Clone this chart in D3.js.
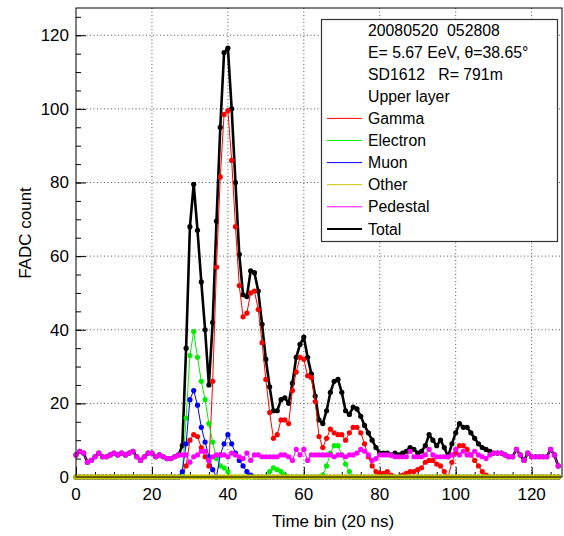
<!DOCTYPE html>
<html>
<head>
<meta charset="utf-8">
<script src="https://cdn.jsdelivr.net/npm/d3@7"></script>
<style>
  body { margin: 0; background: #fff; }
  text { font-family: "Liberation Sans", Arial, Helvetica, sans-serif; white-space: pre; }
</style>
</head>
<body>
<div id="chart"></div>
<script>
// FADC trace, SD1612 upper layer
const bins = d3.range(128);

const gamma = [
    0, 0, 0, 0, 0, 0, 0, 0, 0, 0, 0, 0, 0, 0, 0, 0, 0, 0, 0, 0, 0, 0, 0, 0, 0, 0, 0, 0,
    0.5, 3, 10, 11.5, 11, 8, 5.5, 3, 26, 57, 81.5, 98.5, 99.5, 86, 68, 52, 43.5, 44.5,
    50, 50.5, 45.5, 36.5, 26.5, 17.5, 10.5, 11.5, 15.5, 15.5, 14.5, 23.5, 28.5, 32.5,
    32, 27.5, 27, 20.5, 11, 8, 10.5, 13, 12, 11.5, 11.5, 10, 12, 13.5, 13.5, 12, 9,
    5.5, 3, 1.5, 1, 1, 1.5, 0.5, 0, 0, 0.5, 1, 1.5, 1.5, 2, 2.5, 4, 4.5, 4.5, 3.5, 3,
    1.5, 0, 4, 6.5, 8.5, 8.5, 7.5, 6, 4.5, 3, 1.5, 0.5,
    0, 0, 0, 0, 0, 0, 0, 0, 0, 0, 0, 0, 0, 0, 0, 0, 0, 0, 0
];

const electron = [
    0, 0, 0, 0, 0, 0, 0, 0, 0, 0, 0, 0, 0, 0, 0, 0, 0, 0, 0, 0, 0, 0, 0, 0, 0, 0, 0, 0,
    1, 16, 33, 39.5, 32.5, 26, 21, 14.5, 9.5, 5, 3, 2.5, 1.5, 0,
    0, 0, 0, 0, 0, 0, 0, 0, 0, 1.5, 2.5, 2, 1.5, 0.5,
    0, 0, 0, 0, 0, 0, 0, 0, 0, 0.5, 3, 6.5, 8.5, 8.5, 6, 3.5, 1.5,
    0, 0, 0, 0, 0, 0, 0, 0, 0, 0, 0, 0, 0, 0, 0, 0, 0, 0, 0, 0, 0, 0, 0, 0, 0, 0, 0,
    0, 0, 0, 0, 0, 0, 0, 0, 0, 0, 0, 0, 0, 0, 0, 0, 0, 0, 0, 0, 0, 0, 0, 0, 0, 0, 0, 0
];

const muon = [
    0, 0, 0, 0, 0, 0, 0, 0, 0, 0, 0, 0, 0, 0, 0, 0, 0, 0, 0, 0, 0, 0, 0, 0, 0, 0, 0, 0,
    1.5, 9, 21, 23.5, 19.5, 13.5, 9.5, 5.5, 2, 0, 6, 9, 11.5, 9, 6.5, 4.5, 3, 1.5, 0.5,
    0, 0, 0, 0, 0, 0, 0, 0, 0, 0, 0, 0, 0, 0, 0, 0, 0, 0, 0, 0, 0, 0, 0, 0, 0, 0, 0,
    0, 0, 0, 0, 0, 0, 0, 0, 0, 0, 0, 0, 0, 0, 0, 0, 0, 0, 0, 0, 0, 0, 0, 0, 0, 0, 0,
    0, 0, 0, 0, 0, 0, 0, 0, 0, 0, 0, 0, 0, 0, 0, 0, 0, 0, 0, 0, 0, 0, 0, 0, 0, 0, 0
];

const other = [
    0, 0, 0, 0, 0, 0, 0, 0, 0, 0, 0, 0, 0, 0, 0, 0, 0, 0, 0, 0, 0, 0, 0, 0, 0, 0, 0, 0, 0, 0, 0, 0,
    0, 0, 0, 0, 0, 0, 0, 0, 0, 0, 0, 0, 0, 0, 0, 0, 0, 0, 0, 0, 0, 0, 0, 0, 0, 0, 0, 0, 0, 0, 0, 0,
    0, 0, 0, 0, 0, 0, 0, 0, 0, 0, 0, 0, 0, 0, 0, 0, 0, 0, 0, 0, 0, 0, 0, 0, 0, 0, 0, 0, 0, 0, 0, 0,
    0, 0, 0, 0, 0, 0, 0, 0, 0, 0, 0, 0, 0, 0, 0, 0, 0, 0, 0, 0, 0, 0, 0, 0, 0, 0, 0, 0, 0, 0, 0, 0
];

const pedestal = [
    6, 7, 6.5, 4, 4.5, 5.5, 6.5, 5.5, 5.5, 6, 6.5, 6, 6.5, 6, 6.5, 7, 5.5, 4.5, 5.5, 6.5,
    6.5, 5.5, 6, 5.5, 5, 5, 5.5, 6, 6, 6, 4, 5.5, 6, 7, 7, 4.5, 5.5, 6, 6, 6,
    5.5, 6.5, 6, 5.5, 5, 6.5, 4.5, 6, 6, 5.5, 5.5, 5.5, 5.5, 5.5, 6, 6, 5.5, 4.5, 7.5, 6,
    7.5, 4.5, 6, 6, 6, 6, 6, 6, 5.5, 6, 6, 5.5, 6, 6, 6.5, 7.5, 7, 6, 4.5, 5,
    6, 6, 6, 6, 5.5, 5.5, 5.5, 5.5, 7, 5.5, 5.5, 5.5, 6, 7.5, 6, 5.5, 5.5, 5.5, 5.5, 6,
    7.5, 6, 7, 6, 6, 7, 6, 5.5, 5, 6, 6.5, 6.5, 6.5, 6, 5.5, 5.5, 7.5, 6, 4.5, 6.5,
    5.5, 5.5, 5.5, 5.5, 5.5, 7.5, 6, 3
];

const total = [
    6, 7, 6.5, 4, 4.5, 5.5, 6.5, 5.5, 5.5, 6, 6.5, 6, 6.5, 6, 6.5, 7, 5.5, 4.5, 5.5, 6.5,
    6.5, 5.5, 6, 5.5, 5, 5, 5.5, 6, 8.5, 35, 68, 79.5, 67, 53, 40, 25, 42, 69.5, 95, 115.3,
    116.5, 100, 80, 60.5, 49.5, 49, 56, 55.5, 50.5, 41.5, 32, 24.5, 18, 18, 21, 21.5, 20, 25.5, 32.5, 36,
    38, 32.5, 28, 22, 15.5, 14.5, 18, 23, 26, 26.5, 23, 18, 17, 19, 18.5, 16.5, 14, 12, 10, 8,
    6.5, 6.5, 6.5, 6, 6.5, 6, 6.5, 7, 8, 7.5, 6.5, 7, 8.5, 11.5, 10, 8.5, 10, 8, 5.5, 9,
    12, 14.5, 13.5, 13.5, 12, 10.5, 9, 8, 7.5, 7, 6.5, 6.5, 6.5, 6, 5.5, 5.5, 7.5, 6, 4.5, 6.5,
    5.5, 5.5, 5.5, 5.5, 5.5, 7.5, 6, 3
];

const xTicks = [0, 20, 40, 60, 80, 100, 120];
const yTicks = [0, 20, 40, 60, 80, 100, 120];
const headerLines = ['20080520  052808', 'E= 5.67 EeV, \u03b8=38.65\u00b0', 'SD1612   R= 791m', 'Upper layer'];

// Series in draw order (total first so the components sit on top of it)
const series = [
    { name: 'Total', values: total, color: '#000000', width: 2.6 },
    { name: 'Gamma', values: gamma, color: '#ff0000', width: 1 },
    { name: 'Electron', values: electron, color: '#00ee00', width: 1 },
    { name: 'Muon', values: muon, color: '#0000ff', width: 1 },
    { name: 'Other', values: other, color: '#c8c400', width: 1 },
    { name: 'Pedestal', values: pedestal, color: '#ff00ff', width: 1 }
];
const legendOrder = ['Gamma', 'Electron', 'Muon', 'Other', 'Pedestal', 'Total'];

// Chart dimensions
const width = 564;
const height = 536;
const plot = { left: 76, right: 562, top: 8, bottom: 477 };

const x = d3.scaleLinear().domain([0, 128]).range([plot.left, plot.right]);
const y = d3.scaleLinear().domain([0, 127.4]).range([plot.bottom, plot.top]);

const svg = d3.select('#chart')
    .append('svg')
    .attr('width', width)
    .attr('height', height);

// Dotted grid
svg.append('g')
    .selectAll('line')
    .data(xTicks.filter(d => d > 0))
    .enter()
    .append('line')
    .attr('x1', d => x(d)).attr('x2', d => x(d))
    .attr('y1', plot.top).attr('y2', plot.bottom)
    .attr('stroke', '#555')
    .attr('stroke-dasharray', '1,2.5');

svg.append('g')
    .selectAll('line')
    .data(yTicks.filter(d => d > 0))
    .enter()
    .append('line')
    .attr('x1', plot.left).attr('x2', plot.right)
    .attr('y1', d => y(d)).attr('y2', d => y(d))
    .attr('stroke', '#555')
    .attr('stroke-dasharray', '1,2.5');

// Axes with inward ticks (major every 20, minor every 5)
svg.append('g')
    .attr('transform', `translate(0, ${plot.bottom})`)
    .call(d3.axisTop(x).tickValues(d3.range(0, 128, 5)).tickSize(5).tickFormat(''))
    .call(g => g.select('.domain').remove());
svg.append('g')
    .attr('transform', `translate(0, ${plot.bottom})`)
    .call(d3.axisTop(x).tickValues(xTicks).tickSize(10).tickFormat(''))
    .call(g => g.select('.domain').remove());

svg.append('g')
    .attr('transform', `translate(${plot.left}, 0)`)
    .call(d3.axisRight(y).tickValues(d3.range(0, 127, 5)).tickSize(5).tickFormat(''))
    .call(g => g.select('.domain').remove());
svg.append('g')
    .attr('transform', `translate(${plot.left}, 0)`)
    .call(d3.axisRight(y).tickValues(yTicks).tickSize(10).tickFormat(''))
    .call(g => g.select('.domain').remove());

svg.selectAll('.tick line').attr('stroke', '#000');

// Tick labels
svg.append('g')
    .selectAll('text')
    .data(xTicks)
    .enter()
    .append('text')
    .attr('x', d => x(d))
    .attr('y', plot.bottom + 23)
    .attr('text-anchor', 'middle')
    .style('font-size', '17px')
    .text(d => d);

svg.append('g')
    .selectAll('text')
    .data(yTicks)
    .enter()
    .append('text')
    .attr('x', plot.left - 7)
    .attr('y', d => y(d))
    .attr('dy', '0.35em')
    .attr('text-anchor', 'end')
    .style('font-size', '17px')
    .text(d => d);

// Axis titles
svg.append('text')
    .attr('x', 333)
    .attr('y', 527)
    .attr('text-anchor', 'middle')
    .style('font-size', '17px')
    .text('Time bin (20 ns)');

svg.append('text')
    .attr('transform', 'translate(31, 233) rotate(-90)')
    .attr('text-anchor', 'middle')
    .style('font-size', '17px')
    .text('FADC count');

// Lines and markers
const line = d3.line()
    .x((d, i) => x(bins[i]))
    .y(d => y(d));

series.forEach(s => {
    const g = svg.append('g');
    g.append('path')
        .attr('d', line(s.values))
        .attr('fill', 'none')
        .attr('stroke', s.color)
        .attr('stroke-width', s.width)
        .attr('stroke-linejoin', 'round');
    g.selectAll('circle')
        .data(s.values)
        .enter()
        .append('circle')
        .attr('cx', (d, i) => x(bins[i]))
        .attr('cy', d => y(d))
        .attr('r', s.name === 'Other' ? 2.8 : 2.6)
        .attr('fill', s.color);
});

// Frame
svg.append('rect')
    .attr('x', plot.left)
    .attr('y', plot.top)
    .attr('width', plot.right - plot.left)
    .attr('height', plot.bottom - plot.top)
    .attr('fill', 'none')
    .attr('stroke', '#000')
    .attr('stroke-width', 1);

// Legend box
const legend = svg.append('g');
legend.append('rect')
    .attr('x', 321.5)
    .attr('y', 19.5)
    .attr('width', 236)
    .attr('height', 222)
    .attr('fill', '#fff')
    .attr('stroke', '#333')
    .attr('stroke-width', 1.2);

const rowY = i => 30 + i * 22.1;

headerLines.forEach((t, i) => {
    legend.append('text')
        .attr('x', 368)
        .attr('y', rowY(i))
        .attr('dy', '0.36em')
        .style('font-size', '15.8px')
        .text(t);
});

legendOrder.forEach((name, k) => {
    const s = series.find(d => d.name === name);
    const ly = rowY(k + headerLines.length);
    legend.append('line')
        .attr('x1', 327).attr('x2', 362)
        .attr('y1', ly).attr('y2', ly)
        .attr('stroke', s.color)
        .attr('stroke-width', name === 'Total' ? 2 : 1);
    legend.append('text')
        .attr('x', 368)
        .attr('y', ly)
        .attr('dy', '0.36em')
        .style('font-size', '15.8px')
        .text(name);
});
</script>
</body>
</html>
